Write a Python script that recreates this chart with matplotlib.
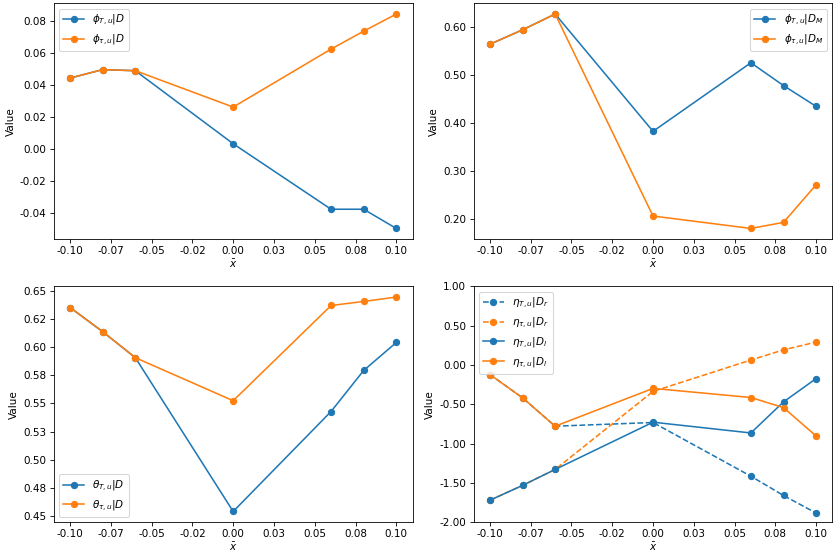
import matplotlib
matplotlib.use("Agg")
import matplotlib.pyplot as plt
from matplotlib.ticker import FormatStrFormatter

x_bar = [-0.10, -0.08, -0.06, 0.00, 0.06, 0.08, 0.10]

# phi | D
phi_T_D = [0.0442, 0.0495, 0.0488, 0.0032, -0.0377, -0.0377, -0.0497]
phi_tau_D = [0.0442, 0.0495, 0.0488, 0.0261, 0.0623, 0.0735, 0.0842]

# phi | D_M
phi_T_DM = [0.5636, 0.5937, 0.6266, 0.3821, 0.5250, 0.4775, 0.4341]
phi_tau_DM = [0.5636, 0.5937, 0.6266, 0.2056, 0.1797, 0.1923, 0.2708]

# theta | D
theta_T_D = [0.6353, 0.6138, 0.5907, 0.4539, 0.5428, 0.5793, 0.6042]
theta_tau_D = [0.6353, 0.6138, 0.5907, 0.5524, 0.6371, 0.6407, 0.6446]

# eta | D_r (dashed) and eta | D_l (solid)
eta_T_Dr = [-0.122, -0.418, -0.779, -0.732, -1.415, -1.660, -1.884]
eta_tau_Dr = [-1.721, -1.532, -1.329, -0.337, 0.063, 0.192, 0.291]
eta_T_Dl = [-1.721, -1.532, -1.329, -0.728, -0.865, -0.470, -0.173]
eta_tau_Dl = [-0.122, -0.418, -0.779, -0.298, -0.414, -0.543, -0.904]

blue = "tab:blue"
orange = "tab:orange"

fig, axes = plt.subplots(2, 2, figsize=(11.2, 7.36), dpi=75)

ax = axes[0, 0]
ax.plot(x_bar, phi_T_D, marker="o", color=blue, label=r"$\phi_{T,u}|D$")
ax.plot(x_bar, phi_tau_D, marker="o", color=orange, label=r"$\phi_{\tau,u}|D$")
ax.legend(loc="upper left")

ax = axes[0, 1]
ax.plot(x_bar, phi_T_DM, marker="o", color=blue, label=r"$\phi_{T,u}|D_M$")
ax.plot(x_bar, phi_tau_DM, marker="o", color=orange, label=r"$\phi_{\tau,u}|D_M$")
ax.legend(loc="upper right")

ax = axes[1, 0]
ax.plot(x_bar, theta_T_D, marker="o", color=blue, label=r"$\theta_{T,u}|D$")
ax.plot(x_bar, theta_tau_D, marker="o", color=orange, label=r"$\theta_{\tau,u}|D$")
ax.legend(loc="lower left")

ax = axes[1, 1]
ax.plot(x_bar, eta_T_Dr, marker="o", color=blue, linestyle="--", label=r"$\eta_{T,u}|D_r$")
ax.plot(x_bar, eta_tau_Dr, marker="o", color=orange, linestyle="--", label=r"$\eta_{\tau,u}|D_r$")
ax.plot(x_bar, eta_T_Dl, marker="o", color=blue, label=r"$\eta_{T,u}|D_l$")
ax.plot(x_bar, eta_tau_Dl, marker="o", color=orange, label=r"$\eta_{\tau,u}|D_l$")
ax.set_ylim(-2.0, 1.0)
ax.legend(loc="upper left")

for ax in axes.flat:
    ax.set_xlabel(r"$\bar{x}$", labelpad=1.5)
    ax.set_ylabel("Value")
    ax.xaxis.set_major_formatter(FormatStrFormatter("%.2f"))
    ax.yaxis.set_major_formatter(FormatStrFormatter("%.2f"))

plt.subplots_adjust(left=0.064, right=0.991, top=0.994, bottom=0.054, wspace=0.17, hspace=0.2)
plt.savefig("out.png", dpi=75)
